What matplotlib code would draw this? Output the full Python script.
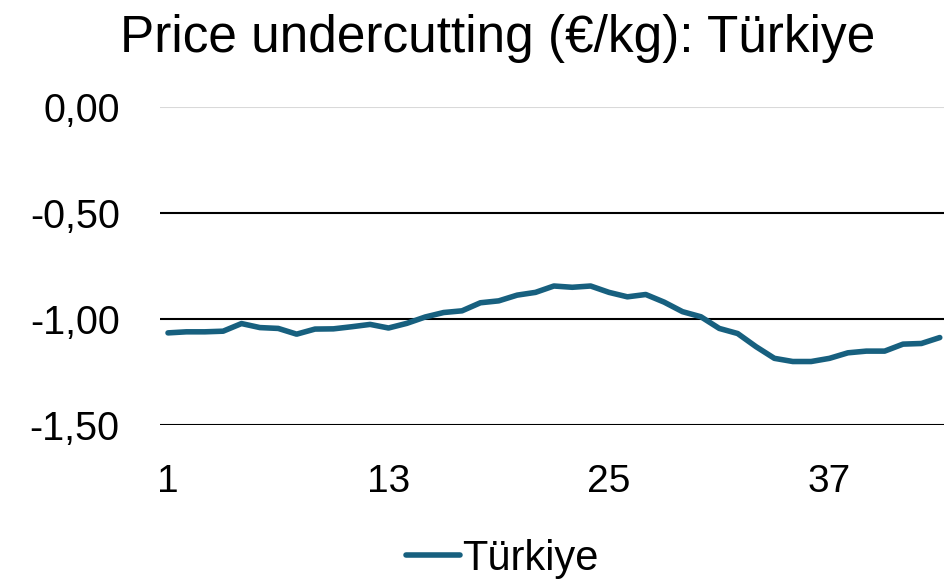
import numpy as np
import matplotlib
matplotlib.use('Agg')
import matplotlib.pyplot as plt
from matplotlib.ticker import FuncFormatter

plt.rcParams['font.family'] = ['Liberation Sans', 'DejaVu Sans']

# data
weeks = np.arange(1, 44)
turkiye = [-1.065, -1.060, -1.060, -1.057, -1.021, -1.040, -1.044, -1.071, -1.047, -1.046,
           -1.036, -1.025, -1.042, -1.020, -0.990, -0.969, -0.961, -0.923, -0.914, -0.887,
           -0.874, -0.844, -0.850, -0.844, -0.874, -0.895, -0.884, -0.920, -0.965, -0.989,
           -1.044, -1.068, -1.130, -1.185, -1.200, -1.200, -1.185, -1.159, -1.151, -1.151,
           -1.118, -1.115, -1.087]
xticks = [1, 13, 25, 37]
yticks = [0.0, -0.5, -1.0, -1.5]

fig = plt.figure(figsize=(9.44, 5.8), dpi=100)
ax = fig.add_axes([0.1695, 0.267, 0.8305, 0.5485])

for y in yticks:
    c = '#d9d9d9' if y == 0 else 'black'
    ax.axhline(y, color=c, lw=1.5, zorder=1)

ax.plot(weeks, turkiye, color='#17607f', lw=4, label='Türkiye', zorder=3,
        solid_capstyle='round', solid_joinstyle='round')

ax.set_xlim(0.565, 43.23)
ax.set_ylim(-1.5, 0)
ax.set_xticks(xticks)
ax.set_yticks(yticks)
ax.yaxis.set_major_formatter(FuncFormatter(lambda v, p: f'{v:.2f}'.replace('.', ',')))
ax.tick_params(length=0)
ax.tick_params(axis='x', labelsize=28, pad=28)
ax.tick_params(axis='y', labelsize=28.5, pad=29)
for s in ax.spines.values():
    s.set_visible(False)

fig.text(0.527, 0.910, 'Price undercutting (€/kg): Türkiye', ha='center', va='baseline',
         fontsize=37)
fig.legend(loc='center', bbox_to_anchor=(0.532, 0.037), frameon=False, fontsize=30,
           handlelength=1.3, handletextpad=0.05, borderpad=0, borderaxespad=0)

fig.savefig('out.png', dpi=100)
